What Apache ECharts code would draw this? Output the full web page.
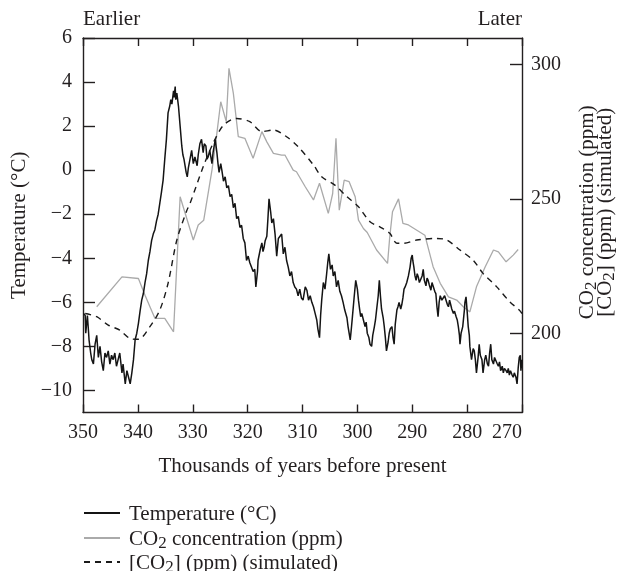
<!DOCTYPE html>
<html>
<head>
<meta charset="utf-8">
<script src="https://cdn.jsdelivr.net/npm/echarts@6/dist/echarts.min.js"></script>
<style>
  html, body { margin: 0; padding: 0; background: #fff; }
  #chart { width: 625px; height: 571px; }
</style>
</head>
<body>
<div id="chart"></div>
<script>
// ---- Data (kyr before present, value) ----
const xTicks = [350, 340, 330, 320, 310, 300, 290, 280, 270];
const tempTicks = [-10, -8, -6, -4, -2, 0, 2, 4, 6];
const co2Ticks = [200, 250, 300];

const temperature = [
[349.9,-6.5],[349.6,-6.6],[349.5,-7.4],[349.2,-6.6],[349.0,-7.3],[348.9,-7.7],[348.6,-8.3],[348.4,-8.6],[348.1,-8.8],[347.8,-7.9],
[347.5,-7.5],[347.2,-8.5],[346.9,-8.0],[346.6,-8.7],[346.3,-9.1],[346.0,-8.3],[345.7,-8.5],[345.4,-8.2],[345.1,-8.8],[344.8,-8.4],
[344.5,-8.6],[344.2,-8.3],[343.9,-8.9],[343.6,-8.6],[343.3,-8.3],[342.9,-9.2],[342.7,-8.8],[342.3,-9.7],[342.0,-9.1],[341.7,-9.4],
[341.4,-9.7],[341.1,-9.2],[340.8,-8.6],[340.5,-7.7],[340.2,-7.4],[339.9,-6.95],[339.6,-6.4],[339.3,-5.9],[339.0,-5.6],[338.7,-5.1],
[338.4,-4.7],[338.1,-4.1],[337.8,-3.7],[337.5,-3.2],[337.2,-2.9],[336.9,-2.7],[336.6,-2.3],[336.3,-2.0],[336.0,-1.5],[335.7,-1.0],
[335.4,-0.45],[335.1,0.5],[334.8,1.4],[334.5,2.6],[334.2,2.9],[334.0,3.2],[333.8,3.0],[333.5,3.6],[333.4,3.3],[333.2,3.8],
[333.1,3.2],[332.9,3.5],[332.6,2.9],[332.3,2.0],[332.0,1.1],[331.8,0.7],[331.6,0.5],[331.2,-0.1],[331.0,-0.3],[330.8,0.1],
[330.5,0.5],[330.2,0.9],[329.9,0.3],[329.6,0.6],[329.2,0.2],[329.0,0.7],[328.7,1.2],[328.4,1.4],[328.1,0.8],[327.9,1.2],
[327.6,1.1],[327.4,0.5],[327.2,0.6],[326.9,0.9],[326.5,0.3],[326.3,0.8],[325.9,1.4],[325.6,0.8],[325.4,0.3],[325.2,-0.1],
[324.9,0.3],[324.7,0.0],[324.4,-0.5],[324.1,-0.3],[323.8,-0.8],[323.5,-0.7],[323.2,-1.2],[322.9,-1.1],[322.6,-1.7],[322.3,-1.5],
[322.0,-2.2],[321.7,-2.1],[321.4,-2.6],[321.1,-2.5],[320.8,-3.1],[320.5,-3.3],[320.2,-4.1],[319.9,-3.9],[319.6,-4.2],[319.3,-4.4],
[319.0,-4.6],[318.7,-4.5],[318.5,-5.3],[318.2,-4.6],[318.1,-4.1],[317.7,-3.6],[317.4,-3.3],[317.2,-3.7],[317.0,-3.5],[316.8,-3.2],
[316.5,-3.0],[316.3,-2.2],[316.1,-1.3],[315.8,-1.9],[315.6,-2.4],[315.3,-2.2],[315.0,-2.9],[314.7,-3.9],[314.4,-3.1],[314.1,-3.0],
[313.8,-2.9],[313.5,-3.8],[313.2,-3.5],[312.9,-4.1],[312.6,-4.4],[312.3,-4.8],[312.0,-4.6],[311.7,-5.1],[311.4,-5.3],[311.1,-5.4],
[310.8,-5.7],[310.5,-5.4],[310.2,-5.8],[309.9,-5.9],[309.5,-5.3],[309.2,-5.45],[308.9,-5.9],[308.6,-5.7],[308.3,-6.0],[308.0,-6.2],
[307.7,-6.5],[307.4,-6.8],[307.2,-7.2],[306.9,-7.6],[306.7,-6.6],[306.5,-5.9],[306.2,-5.1],[305.9,-5.4],[305.6,-4.7],[305.4,-4.2],
[305.2,-3.8],[304.9,-4.5],[304.6,-4.3],[304.4,-4.8],[304.1,-4.6],[303.8,-5.3],[303.5,-5.0],[303.2,-5.5],[302.9,-5.7],[302.6,-6.0],
[302.3,-6.35],[301.9,-6.7],[301.7,-7.1],[301.3,-7.7],[301.1,-7.2],[300.9,-6.65],[300.6,-5.8],[300.3,-5.0],[300.0,-5.4],[299.8,-5.9],
[299.6,-6.3],[299.4,-6.65],[299.2,-6.5],[298.9,-6.8],[298.6,-7.1],[298.4,-6.9],[298.2,-7.4],[297.9,-7.6],[297.7,-7.9],[297.4,-8.0],
[297.2,-7.5],[296.9,-7.1],[296.7,-6.8],[296.5,-6.35],[296.2,-5.7],[296.0,-5.0],[295.8,-5.7],[295.6,-6.3],[295.3,-6.7],[295.1,-7.1],
[294.9,-7.6],[294.7,-8.2],[294.4,-7.8],[294.2,-7.4],[294.0,-7.2],[293.7,-7.1],[293.5,-7.6],[293.3,-7.9],[293.1,-7.0],[292.8,-6.35],
[292.6,-6.2],[292.4,-6.0],[292.1,-6.3],[291.9,-6.1],[291.7,-5.8],[291.5,-5.4],[291.3,-5.3],[291.0,-5.1],[290.7,-4.8],[290.4,-4.4],
[290.2,-4.0],[290.0,-3.85],[289.9,-4.1],[289.7,-4.4],[289.5,-4.8],[289.3,-5.0],[289.1,-4.7],[288.9,-4.85],[288.7,-5.1],[288.5,-5.1],
[288.2,-4.8],[288.0,-4.5],[287.8,-5.0],[287.5,-5.25],[287.3,-4.9],[287.1,-5.0],[286.9,-5.2],[286.6,-5.45],[286.4,-5.1],[286.2,-5.1],
[285.9,-5.5],[285.7,-5.6],[285.5,-6.2],[285.3,-6.65],[285.1,-6.0],[284.9,-5.7],[284.6,-5.9],[284.3,-5.9],[284.1,-5.7],[283.9,-5.75],
[283.6,-6.1],[283.4,-6.2],[283.2,-5.9],[283.0,-6.1],[282.8,-6.3],[282.5,-6.5],[282.3,-6.4],[282.0,-6.65],[281.8,-6.8],[281.6,-7.1],
[281.4,-7.5],[281.3,-7.9],[281.1,-7.4],[280.8,-7.1],[280.5,-6.35],[280.4,-6.0],[280.2,-5.75],[280.0,-6.4],[279.8,-7.1],[279.6,-7.5],
[279.5,-8.0],[279.3,-8.4],[279.2,-8.6],[278.9,-8.1],[278.7,-8.2],[278.5,-8.6],[278.3,-9.2],[278.0,-8.5],[277.8,-7.9],[277.6,-8.4],
[277.3,-8.6],[277.2,-8.9],[277.1,-9.2],[276.8,-8.6],[276.6,-8.4],[276.3,-8.8],[276.1,-8.9],[275.9,-8.3],[275.7,-7.9],[275.5,-8.6],
[275.2,-8.8],[275.0,-8.5],[274.7,-8.45],[274.5,-8.8],[274.3,-8.9],[274.1,-8.7],[273.9,-9.1],[273.6,-8.9],[273.4,-9.2],[273.2,-9.0],
[272.9,-9.1],[272.7,-9.2],[272.5,-9.0],[272.3,-9.3],[272.1,-9.1],[271.8,-9.3],[271.6,-9.4],[271.4,-9.2],[271.1,-9.4],[270.9,-9.7],
[270.7,-9.0],[270.5,-8.5],[270.3,-8.4],[270.2,-9.1],[270.0,-8.6]
];

const co2Measured = [
[347.5,209.9],[342.9,221.0],[339.9,220.4],[338.7,214.2],[336.9,205.6],[335.1,205.6],[333.5,200.6],[332.3,250.8],
[329.9,234.7],[329.0,240.3],[328.0,242.1],[326.5,260.7],[325.9,269.4],[324.9,286.1],[323.9,278.7],[323.4,298.5],
[322.6,289.2],[321.7,273.1],[320.5,272.5],[319.0,265.1],[317.4,275.0],[316.5,271.2],[315.3,266.9],[313.8,266.3],
[313.2,266.3],[311.7,260.7],[311.1,260.1],[309.5,254.5],[308.0,249.6],[306.9,255.8],[305.3,244.6],[304.5,252.0],
[303.9,272.5],[303.3,245.8],[302.4,257.0],[301.5,256.4],[300.4,250.8],[299.8,242.1],[298.9,239.0],[298.2,237.5],
[296.5,231.0],[294.5,226.0],[294.1,235.9],[293.6,245.2],[292.5,250.0],[291.7,240.9],[290.7,240.3],[287.7,236.5],
[286.2,224.8],[284.9,218.6],[283.4,213.6],[281.9,212.4],[280.7,209.9],[279.5,208.0],[278.3,217.3],[276.7,224.8],
[275.2,231.0],[274.3,230.3],[272.9,226.6],[271.6,229.1],[270.7,231.2]
];

const co2Simulated = [
[349.6,207.4],[347.5,206.2],[345.4,203.1],[343.3,201.2],[341.4,198.1],[339.9,197.8],[337.8,202.5],[336.0,208.7],
[334.5,218.6],[332.9,234.7],[331.1,245.6],[330.5,248.3],[328.1,261.9],[326.3,270.6],[324.4,277.4],[322.0,279.9],
[319.6,278.7],[317.4,275.0],[315.3,275.6],[312.9,273.1],[310.8,269.4],[308.0,262.6],[306.5,258.2],[304.1,255.1],
[301.9,250.8],[299.8,247.1],[297.7,241.5],[295.9,239.6],[294.1,237.2],[292.8,233.5],[291.6,233.5],[289.2,234.7],
[285.5,235.3],[283.7,234.7],[281.3,231.0],[278.9,227.2],[277.1,222.3],[274.6,217.3],[272.2,211.7],[270.5,208.7],
[270.0,207.4]
];

const seriesNames = ['Temperature (°C)', 'CO2 concentration (ppm)', '[CO2] (ppm) (simulated)'];

// ---- Styling ----
const FONT = "'Liberation Serif', 'Times New Roman', 'DejaVu Serif', serif";
const INK = '#231f20';
const FS = 20;   // tick labels
const FN = 21;   // names, legend, captions
const richStyles = {
  n: { fontFamily: FONT, fontSize: FN, color: INK, verticalAlign: 'top', lineHeight: 18 },
  s: { fontFamily: FONT, fontSize: 17, color: INK, verticalAlign: 'top', lineHeight: 12, padding: [6, 0, 0, 0] }
};
const richNames = {
  'Temperature (°C)': '{n|Temperature (°C)}',
  'CO2 concentration (ppm)': '{n|CO}{s|2}{n| concentration (ppm)}',
  '[CO2] (ppm) (simulated)': '{n|[CO}{s|2}{n|] (ppm) (simulated)}'
};
const minus = v => String(v).replace('-', '\u2212');

const chart = echarts.init(document.getElementById('chart'), null, { renderer: 'canvas' });
const axisLineStyle = { color: INK, width: 1.4 };

const legendTops = [504, 529, 553];
const legends = seriesNames.map((nm, i) => ({
  orient: 'vertical',
  left: 83,
  top: legendTops[i],
  itemWidth: 36,
  itemHeight: 14,
  padding: 0,
  selectedMode: false,
  data: [nm],
  itemStyle: { opacity: 0 },
  formatter: name => richNames[name],
  textStyle: { fontFamily: FONT, fontSize: FN, color: INK, padding: [0, 0, 0, 4], rich: richStyles }
}));

chart.setOption({
  animation: false,
  backgroundColor: '#fff',
  title: [
    { text: 'Earlier', left: 83, top: 9, padding: 0, textStyle: { fontFamily: FONT, fontSize: FN, fontWeight: 'normal', color: INK } },
    { text: 'Later', right: 103, top: 9, padding: 0, textStyle: { fontFamily: FONT, fontSize: FN, fontWeight: 'normal', color: INK } }
  ],
  grid: { left: 83, right: 103, top: 38, bottom: 158.5, containLabel: false, outerBoundsMode: 'none' },
  legend: legends,
  xAxis: [
    {
      type: 'value', min: 270, max: 350, interval: 10, inverse: true, position: 'bottom',
      axisLine: { show: true, onZero: false, lineStyle: axisLineStyle },
      axisTick: { show: true, inside: true, length: 8, lineStyle: axisLineStyle },
      axisLabel: { fontFamily: FONT, fontSize: FS, color: INK, margin: 10, alignMinLabel: 'right' },
      splitLine: { show: false },
      name: 'Thousands of years before present', nameLocation: 'middle', nameGap: 43,
      nameTextStyle: { fontFamily: FONT, fontSize: FN, color: INK }
    },
    {
      type: 'value', min: 270, max: 350, interval: 10, inverse: true, position: 'top',
      axisLine: { show: true, onZero: false, lineStyle: axisLineStyle },
      axisTick: { show: true, inside: true, length: 8, lineStyle: axisLineStyle },
      axisLabel: { show: false },
      splitLine: { show: false }
    }
  ],
  yAxis: [
    {
      type: 'value', min: -11, max: 6, position: 'left',
      axisLine: { show: true, onZero: false, lineStyle: axisLineStyle },
      axisTick: { show: true, inside: true, length: 12, lineStyle: axisLineStyle, customValues: tempTicks },
      axisLabel: { fontFamily: FONT, fontSize: FS, color: INK, margin: 11, customValues: tempTicks, formatter: minus },
      splitLine: { show: false },
      name: 'Temperature (°C)', nameLocation: 'middle', nameGap: 53, nameRotate: 90,
      nameTextStyle: { fontFamily: FONT, fontSize: FN, color: INK }
    },
    {
      type: 'value', min: 170.6, max: 309.8, position: 'right',
      axisLine: { show: true, onZero: false, lineStyle: axisLineStyle },
      axisTick: { show: true, inside: true, length: 12, lineStyle: axisLineStyle, customValues: co2Ticks },
      axisLabel: { fontFamily: FONT, fontSize: FS, color: INK, margin: 9, customValues: co2Ticks },
      splitLine: { show: false },
      name: richNames['CO2 concentration (ppm)'] + '\n' + richNames['[CO2] (ppm) (simulated)'],
      nameLocation: 'middle', nameGap: 55, nameRotate: 90,
      nameTextStyle: { fontFamily: FONT, fontSize: FN, color: INK, padding: [0, 0, 0, 26], rich: richStyles }
    }
  ],
  series: [
    {
      name: seriesNames[1], type: 'line', xAxisIndex: 0, yAxisIndex: 1, data: co2Measured,
      symbol: 'none', lineStyle: { color: '#aaaaaa', width: 1.3 }, itemStyle: { color: '#aaaaaa' }, z: 2
    },
    {
      name: seriesNames[0], type: 'line', xAxisIndex: 0, yAxisIndex: 0, data: temperature,
      symbol: 'none', lineStyle: { color: '#141414', width: 1.5 }, itemStyle: { color: '#141414' }, z: 3
    },
    {
      name: seriesNames[2], type: 'line', xAxisIndex: 0, yAxisIndex: 1, data: co2Simulated, smooth: 0.3,
      symbol: 'none', lineStyle: { color: '#1a1a1a', width: 1.4, type: [6, 5] }, itemStyle: { color: '#1a1a1a' }, z: 4
    }
  ]
});
</script>
</body>
</html>
